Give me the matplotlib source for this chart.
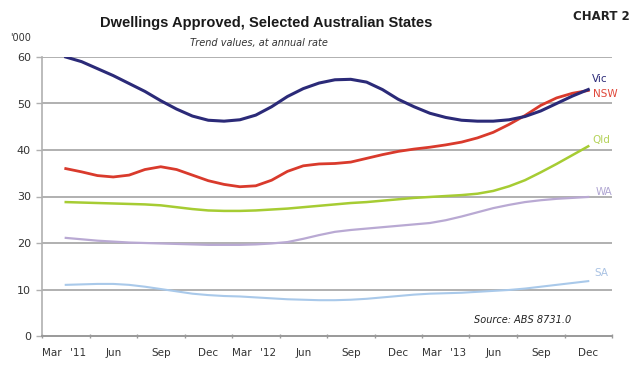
import numpy as np
import matplotlib.pyplot as plt

# monthly trend series, Mar 2011 .. Dec 2013 ('000 dwellings, annual rate)
months = np.arange(34)

vic = [60.0, 59.0, 57.5, 56.0, 54.3, 52.6, 50.6, 48.8, 47.3, 46.4, 46.2, 46.5,
       47.5, 49.3, 51.5, 53.2, 54.4, 55.1, 55.2, 54.6, 53.0, 50.9, 49.3, 47.9,
       47.0, 46.4, 46.2, 46.2, 46.5, 47.2, 48.4, 50.0, 51.6, 53.0]
nsw = [36.0, 35.3, 34.5, 34.2, 34.6, 35.8, 36.4, 35.8, 34.6, 33.4, 32.6, 32.1,
       32.3, 33.5, 35.4, 36.6, 37.0, 37.1, 37.4, 38.2, 39.0, 39.7, 40.2, 40.6,
       41.1, 41.7, 42.6, 43.8, 45.5, 47.4, 49.6, 51.2, 52.2, 52.8]
qld = [28.8, 28.7, 28.6, 28.5, 28.4, 28.3, 28.1, 27.7, 27.3, 27.0, 26.9, 26.9,
       27.0, 27.2, 27.4, 27.7, 28.0, 28.3, 28.6, 28.8, 29.1, 29.4, 29.7, 29.9,
       30.1, 30.3, 30.6, 31.2, 32.2, 33.5, 35.2, 37.0, 38.9, 40.8]
wa = [21.1, 20.8, 20.5, 20.3, 20.1, 20.0, 19.9, 19.8, 19.7, 19.6, 19.6, 19.6,
      19.7, 19.9, 20.2, 20.9, 21.7, 22.4, 22.8, 23.1, 23.4, 23.7, 24.0, 24.3,
      24.9, 25.7, 26.6, 27.5, 28.2, 28.8, 29.2, 29.5, 29.7, 29.9]
sa = [11.0, 11.1, 11.2, 11.2, 11.0, 10.6, 10.1, 9.6, 9.1, 8.8, 8.6, 8.5,
      8.3, 8.1, 7.9, 7.8, 7.7, 7.7, 7.8, 8.0, 8.3, 8.6, 8.9, 9.1,
      9.2, 9.3, 9.5, 9.7, 9.9, 10.2, 10.6, 11.0, 11.4, 11.8]

month_labels = ["Mar", "Jun", "Sep", "Dec", "Mar", "Jun", "Sep", "Dec",
                "Mar", "Jun", "Sep", "Dec"]
year_labels = ["'11", "'12", "'13"]

fig = plt.figure(figsize=(6.33, 3.76), dpi=100)
ax = fig.add_axes([42 / 633, 40 / 376, 570 / 633, 279 / 376])

grid_col = "#b0b0b0"
ax.set_xlim(-1.5, 34.5)
ax.set_ylim(0, 60)
for v in range(10, 61, 10):
    ax.axhline(v, color=grid_col, lw=1.4, zorder=1)

ax.plot(months, sa, color="#a9c9ea", lw=1.5, zorder=3)
ax.plot(months, wa, color="#b9a9d3", lw=1.6, zorder=3)
ax.plot(months, qld, color="#a6cc33", lw=1.8, zorder=3)
ax.plot(months, nsw, color="#d93a2c", lw=2.0, zorder=4)
ax.plot(months, vic, color="#2b2a78", lw=2.2, zorder=5)

for sp in ["top", "right"]:
    ax.spines[sp].set_visible(False)
ax.spines["left"].set_color(grid_col)
ax.spines["bottom"].set_color("#999999")
ax.spines["left"].set_linewidth(1.2)
ax.spines["bottom"].set_linewidth(1.4)

ax.set_yticks(range(0, 61, 10))
ax.tick_params(axis="y", colors=grid_col, length=4, width=1, labelsize=8,
               labelcolor="#333333", pad=4)
ax.set_xticks(np.arange(-1.5, 34.6, 3))
ax.set_xticklabels([])
ax.tick_params(axis="x", colors="#999999", length=3, width=1, direction="inout")

# quarter labels under the axis, Mar nudged left and year marker to its right
for i, lab in enumerate(month_labels):
    x = i * 3
    if lab == "Mar":
        x -= 0.9
    ax.text(x, -2.6, lab, ha="center", va="top", fontsize=7.5, color="#333333")
for j, yl in enumerate(year_labels):
    ax.text(j * 12 + 0.8, -2.6, yl, ha="center", va="top", fontsize=7.5,
            color="#333333")

# series names at the right-hand end
ax.text(33.75, 55.2, "Vic", color="#2b2a78", fontsize=7.5, ha="center", va="center")
ax.text(34.1, 52.0, "NSW", color="#e0483a", fontsize=7.5, ha="center", va="center")
ax.text(33.8, 42.2, "Qld", color="#b5d35a", fontsize=7.5, ha="center", va="center")
ax.text(34.0, 31.0, "WA", color="#b0a6d2", fontsize=7.5, ha="center", va="center")
ax.text(33.8, 13.5, "SA", color="#a9c2e3", fontsize=7.5, ha="center", va="center")

ax.text(31.9, 3.5, "Source: ABS 8731.0", fontsize=7, style="italic",
        ha="right", va="center", color="#222222")

fig.text(0.421, 0.94, "Dwellings Approved, Selected Australian States",
         ha="center", va="center", fontsize=10.5, fontweight="bold",
         family="Liberation Sans", color="#1a1a1a")
fig.text(0.409, 0.885, "Trend values, at annual rate", ha="center", va="center",
         fontsize=7, style="italic", color="#333333")
fig.text(0.995, 0.955, "CHART 2", ha="right", va="center", fontsize=8.5,
         fontweight="bold", color="#222222")
fig.text(0.033, 0.9, "'000", ha="center", va="center", fontsize=7, color="#333333")

fig.savefig("out.png", dpi=100, facecolor="white")
